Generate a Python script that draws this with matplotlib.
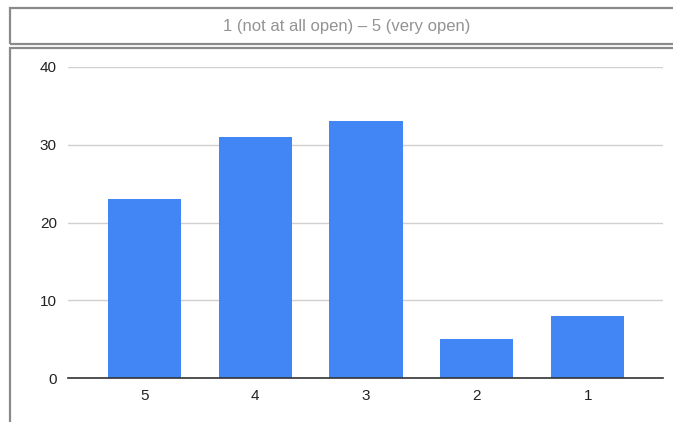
import matplotlib.pyplot as plt
from matplotlib.patches import Rectangle

plt.rcParams['font.family'] = ['Liberation Sans', 'DejaVu Sans']

categories = ['5', '4', '3', '2', '1']
counts = [23, 31, 33, 5, 8]
y_ticks = [0, 10, 20, 30, 40]
title = '1 (not at all open) \u2013 5 (very open)'

W, H = 673, 422
fig = plt.figure(figsize=(W / 100, H / 100), dpi=100)

# frame around the title and around the plot area
fig.patches.append(Rectangle((10 / W, 1 - 44 / H), 700 / W, 36 / H,
                             transform=fig.transFigure, fill=False,
                             edgecolor='#8a8a8a', linewidth=1.6))
fig.patches.append(Rectangle((10 / W, -0.1), 700 / W, 1.1 - 48 / H,
                             transform=fig.transFigure, fill=False,
                             edgecolor='#8a8a8a', linewidth=1.6))
fig.text(347 / W, 1 - 26 / H, title, ha='center', va='center',
         fontsize=12, color='#939393')

ax = fig.add_axes([68 / W, 1 - 378 / H, (663 - 68) / W, (378 - 67) / H])
x = range(len(categories))
ax.bar(x, counts, width=0.66, color='#4285f4', zorder=3)

ax.set_xlim(-0.69, len(categories) - 1 + 0.68)
ax.set_ylim(0, 40)
ax.set_yticks(y_ticks)
ax.set_xticks(list(x))
ax.set_xticklabels(categories)
ax.grid(axis='y', color='#d0d0d0', linewidth=1, zorder=0)
ax.tick_params(length=0, labelsize=11, colors='#222222')
ax.tick_params(axis='y', pad=8)
ax.tick_params(axis='x', pad=8)
for side in ['top', 'right', 'left']:
    ax.spines[side].set_visible(False)
ax.spines['bottom'].set_color('#333333')
ax.spines['bottom'].set_linewidth(1.2)
ax.spines['bottom'].set_zorder(4)

fig.savefig('out.png', dpi=100)
